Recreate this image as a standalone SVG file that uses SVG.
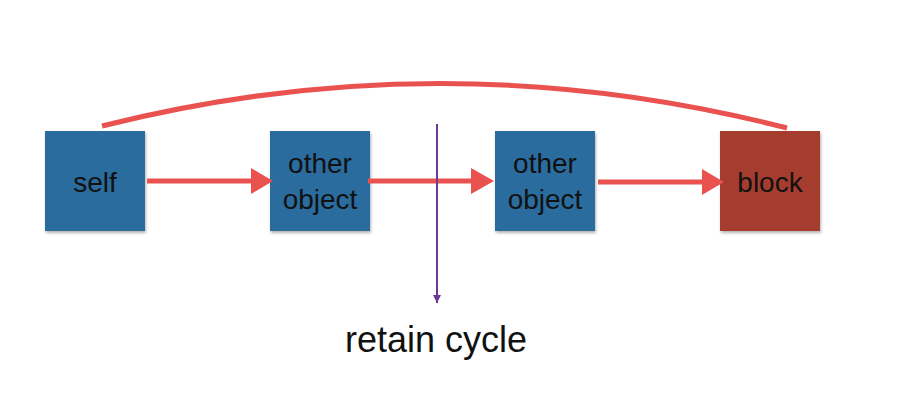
<svg xmlns="http://www.w3.org/2000/svg" width="914" height="420" viewBox="0 0 914 420">
<defs>
<style>
.box{fill:#2C6C9D;}
.blk{fill:#A53C2E;}
.lbl{font-family:"Liberation Sans",Arial,sans-serif;font-size:28px;fill:#111;text-anchor:middle;}
.red{stroke:#EA5250;stroke-width:5;fill:none;stroke-linecap:butt;}
.redhead{fill:#EA5250;}
</style>
<filter id="sh" x="-10%" y="-10%" width="125%" height="125%">
<feDropShadow dx="1" dy="2" stdDeviation="1.5" flood-color="#000" flood-opacity="0.3"/>
</filter>
<marker id="pa" viewBox="0 0 10 10" refX="10" refY="5" markerWidth="8" markerHeight="8" markerUnits="userSpaceOnUse" orient="auto">
<path d="M0,0 L10,5 L0,10 z" fill="#6A3A95"/>
</marker>
</defs>
<rect width="914" height="420" fill="#fff"/>
<g id="self">
<rect class="box" x="45" y="131" width="100" height="100" filter="url(#sh)"/>
<text class="lbl" x="95" y="192">self</text>
</g>
<g id="other1">
<rect class="box" x="270" y="131" width="100" height="100" filter="url(#sh)"/>
<text class="lbl" x="320" y="173">other</text>
<text class="lbl" x="320" y="209">object</text>
</g>
<g id="other2">
<rect class="box" x="495" y="131" width="100" height="100" filter="url(#sh)"/>
<text class="lbl" x="545" y="173">other</text>
<text class="lbl" x="545" y="209">object</text>
</g>
<g id="block">
<rect class="blk" x="720" y="131" width="100" height="100" filter="url(#sh)"/>
<text class="lbl" x="770" y="192">block</text>
</g>
<g id="connectors">
<path class="red" d="M102,126 Q444,40 787,128"/>
<line class="red" x1="147" y1="181" x2="254" y2="181"/>
<path class="redhead" d="M251,168 L273,181 L251,194 z"/>
<line class="red" x1="368" y1="181" x2="474" y2="181"/>
<path class="redhead" d="M471,168 L494,181 L471,194 z"/>
<line class="red" x1="598" y1="182" x2="705" y2="182"/>
<path class="redhead" d="M702,169 L724,182 L702,195 z"/>
<line x1="437" y1="124" x2="437" y2="303" stroke="#6A3A95" stroke-width="2" marker-end="url(#pa)"/>
</g>
<text id="caption" x="436" y="352" font-family="'Liberation Sans',Arial,sans-serif" font-size="36" fill="#111" text-anchor="middle">retain cycle</text>
</svg>
